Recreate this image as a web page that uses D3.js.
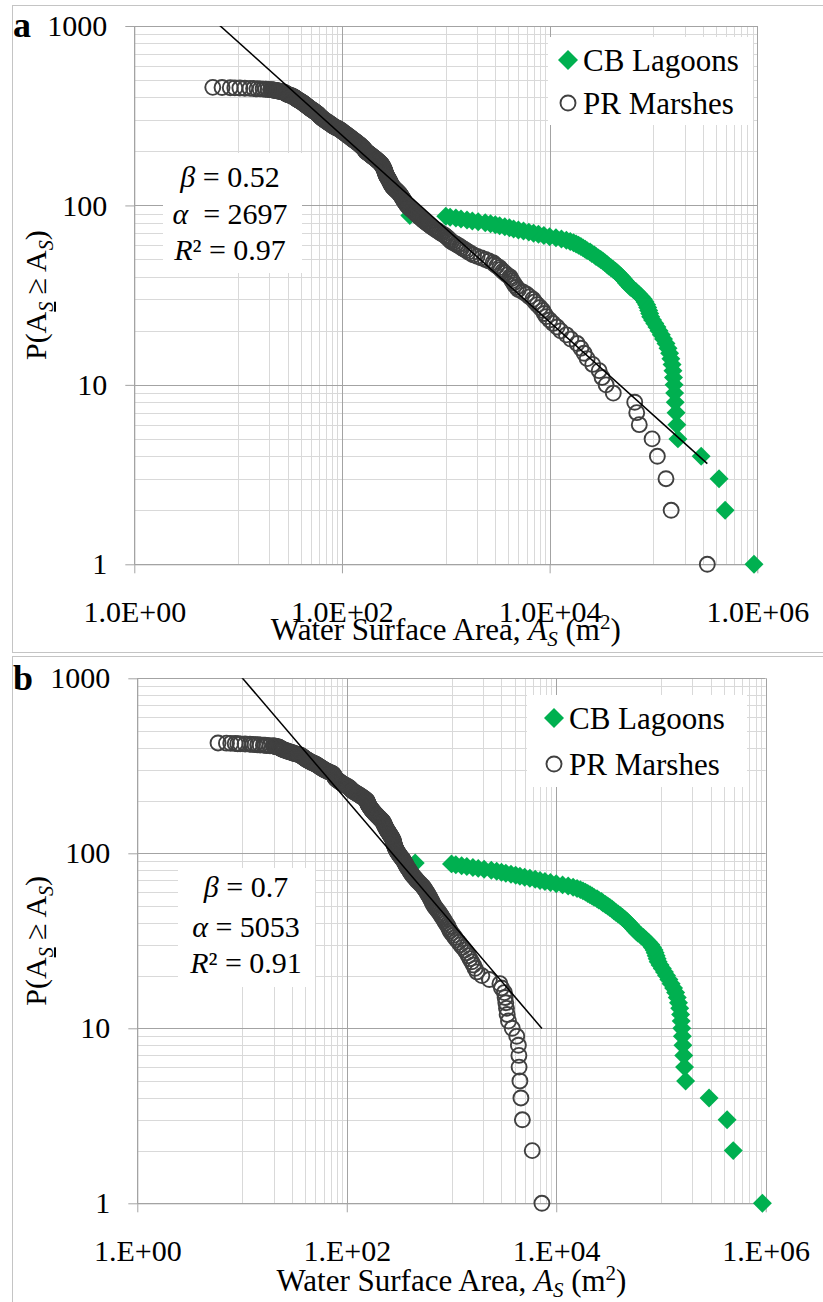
<!DOCTYPE html>
<html>
<head>
<meta charset="utf-8">
<script src="https://cdn.jsdelivr.net/npm/d3@7"></script>
<style>
body { margin: 0; background: #fff; }
svg text { font-family: "Liberation Serif", "Times New Roman", serif; fill: #000; }
</style>
</head>
<body>
<svg id="chart" width="823" height="1302" font-family="Liberation Serif, Times New Roman, serif"></svg>
<script>
// ---- data: [area m2, rank = count of areas >= it] ----
var cbLagoons = [
  [930000,1],[490000,2],[428000,3],[288000,4],[172000,5],[168000,6],[165000,7],[162000,8],[160000,9],[158000,10],
  [156000,11],[154000,12],[151000,13],[147000,14],[143000,15],[138000,16],[132000,17],[125000,18],[119000,19],[113000,20],
  [108000,21],[103000,22],[98000,23],[94000,24],[92000,25],[90000,26],[88000,27],[86000,28],[83000,29],[80000,30],
  [76000,31],[72000,32],[68000,33],[64000,34],[60000,35],[57500,36],[55000,37],[53000,38],[51000,39],[49000,40],
  [47000,41],[45000,42],[43000,43],[41000,44],[39000,45],[37000,46],[35500,47],[34000,48],[32500,49],[31000,50],
  [29500,51],[28000,52],[27000,53],[25500,54],[24500,55],[23000,56],[22000,57],[21000,58],[20000,59],[19000,60],
  [18000,61],[17000,62],[15800,63],[14500,64],[13000,65],[11500,66],[10000,67],[8800,68],[7800,69],[7000,70],
  [6300,71],[5600,72],[5000,73],[4500,74],[4100,75],[3700,76],[3300,77],[3000,78],[2700,79],[2400,80],
  [2050,81],[1800,82],[1600,83],[1400,84],[1250,85],[1100,86],[1000,87],[450,88]
];

var prMarshesA = [
  [330000,1],[148000,2],[132000,3],[109000,4],[97000,5],[73000,6],[69000,7],[66000,8],[41000,9],[35000,10],
  [32000,11],[30000,12],[26000,13],[23000,14],[21500,15],[20000,16],[18400,17],[16000,18],[14500,19],[12800,20],
  [11800,21],[10800,22],[10000,23],[9300,24],[8900,25],[8600,26],[8100,27],[7600,28],[7200,29],[6900,30],
  [6400,31],[6000,32],[5500,33],[5000,34],[4800,35],[4600,36],[4500,37],[4350,38],[4250,39],[4150,40],
  [3900,41],[3700,42],[3550,43],[3400,44],[3300,45],[3100,46],[2950,47],[2850,48],[2600,49],[2400,50],
  [2200,51],[2000,52],[1850,53],[1750,54],[1650,55],[1580,56],[1500,57],[1430,58],[1370,59],[1300,60],
  [1250,61],[1180,62],[1130,63],[1100,64],[1070,65],[1040,66],[1010,67],[980,68],[940,69],[900,70],
  [870,71],[840,72],[810,73],[780,74],[755,75],[730,76],[710,77],[690,78],[670,79],[650,80],
  [632,81],[615,82],[602,83],[590,84],[575,85],[560,86],[547,87],[535,88],[525,89],[515,90],
  [505,91],[495,92],[485,93],[475,94],[465,95],[455,96],[447,97],[440,98],[432,99],[425,100],
  [420,101],[415,102],[410,103],[405,104],[401,105],[398,106],[394,107],[390,108],[386,109],[382,110],
  [378,111],[375,112],[371,113],[368,114],[364,115],[360,116],[355,117],[350,118],[345,119],[340,120],
  [335,121],[330,122],[325,123],[320,124],[316,125],[312,126],[308,127],[305,128],[302,129],[300,130],
  [298,131],[296,132],[294,133],[292,134],[290,135],[288,136],[287,137],[285,138],[283,139],[281,140],
  [279,141],[277,142],[275,143],[273,144],[271,145],[270,146],[268,147],[266,148],[265,149],[264,150],
  [263,151],[262,152],[261,153],[260,154],[259,155],[258,156],[257,157],[256,158],[255,159],[254,160],
  [252,161],[251,162],[250,163],[248,164],[247,165],[246,166],[244,167],[243,168],[241,169],[239,170],
  [237,171],[235,172],[232,173],[230,174],[227,175],[225,176],[222,177],[220,178],[217,179],[215,180],
  [213,181],[210,182],[208,183],[205,184],[203,185],[200,186],[198,187],[195,188],[193,189],[191,190],
  [189,191],[187,192],[185,193],[182,194],[180,195],[178,196],[176,197],[174,198],[172,199],[170,200],
  [169,201],[167,203],[165,205],[163,207],[161,209],[158,211],[155,213],[152,215],[150,217],[147,219],
  [144,221],[141,223],[139,225],[136,227],[133,229],[130,231],[128,233],[125,235],[123,237],[121,239],
  [119,241],[116,243],[114,245],[112,247],[110,249],[108,251],[106,253],[104,255],[102,257],[100,259],
  [99,261],[97,263],[95,265],[93,267],[91,269],[88,271],[86,273],[84,275],[82,277],[81,279],
  [80,281],[78.5,283],[77,285],[75.5,287],[74,289],[73,291],[72,293],[70.5,295],[69,297],[68,299],
  [67,301],[66,303],[65,305],[64,307],[63.4,309],[62.6,311],[61.8,313],[61,315],[60.4,317],[59.8,319],
  [59.2,321],[58.6,323],[58,325],[57.2,327],[56.4,329],[55.6,331],[54.8,333],[54,335],[53.2,337],[52.4,339],
  [51.6,341],[50.8,343],[50,345],[49.4,347],[48.8,349],[48.2,351],[47.6,353],[47,355],[46.4,357],[45.8,359],
  [45.2,361],[44.6,363],[44,365],[43.6,367],[43.2,369],[42.6,371],[42,373],[41.5,375],[40.9,377],[40.3,379],
  [39.7,381],[39.1,383],[38.5,385],[37.9,387],[37.3,389],[36.8,391],[36.4,393],[36,395],[35.6,397],[35.2,399],
  [34.7,401],[34.1,403],[33.5,405],[32.9,407],[32.3,409],[31.6,411],[30.8,413],[30,415],[29.6,417],[29.2,419],
  [28.8,421],[28.4,423],[28,425],[27.5,427],[27,429],[26.5,430],[26,431],[25.5,432],[25,433],[24.5,434],
  [24,435],[23.5,436],[23,437],[22.5,438],[22.1,439],[21.7,440],[21.1,441],[20.5,442],[19.4,443],[18.4,444],
  [17.4,445],[16.3,446],[15.2,447],[14.1,448],[13,449],[11.6,450],[10.4,451],[9.3,452],[8.4,453],[7,454],
  [5.7,455]
];

var prMarshesB = [
  [7300,1],[5900,2],[4750,3],[4600,4],[4500,5],[4420,6],[4400,7],[4350,8],[4200,9],[3800,10],
  [3500,11],[3400,12],[3350,13],[3300,14],[3250,15],[3200,16],[3000,17],[2900,18],[2300,19],[1950,20],
  [1750,21],[1680,22],[1620,23],[1560,24],[1500,25],[1450,26],[1400,27],[1340,28],[1280,29],[1220,30],
  [1170,31],[1120,32],[1080,33],[1040,34],[1000,35],[970,36],[950,37],[930,38],[910,39],[880,40],
  [860,41],[840,42],[820,43],[800,44],[780,45],[760,46],[740,47],[720,48],[700,49],[685,50],
  [671,51],[660,52],[650,53],[640,54],[630,55],[620,56],[610,57],[600,58],[590,59],[580,60],
  [570,61],[560,62],[550,63],[540,64],[528,65],[515,66],[503,67],[490,68],[479,69],[468,70],
  [459,71],[450,72],[441,73],[432,74],[425,75],[418,76],[411,77],[405,78],[400,79],[395,80],
  [390,81],[385,82],[380,83],[375,84],[371,85],[367,86],[363,87],[360,88],[356,89],[352,90],
  [348,91],[345,92],[340,93],[335,94],[330,95],[326,96],[322,97],[318,98],[314,99],[310,100],
  [307,101],[304,102],[301,103],[298,104],[296,105],[294,106],[292,107],[290,108],[288,109],[287,110],
  [285,111],[284,112],[283,113],[282,114],[281,115],[280,116],[279,117],[278,118],[277,119],[275,120],
  [273,121],[271,122],[269,123],[267,124],[265,125],[263,126],[260,127],[258,128],[256,129],[254,130],
  [252,131],[250,132],[248,133],[246,134],[244,135],[242,136],[241,137],[239,138],[237,139],[236,140],
  [234,141],[233,142],[232,143],[230,144],[229,145],[228,146],[227,147],[226,148],[225,149],[223,150],
  [222,151],[221,152],[219,153],[216,154],[214,155],[212,156],[209,157],[207,158],[205,159],[203,160],
  [201,161],[199,162],[197,163],[195,164],[193,165],[191,166],[189,167],[187,168],[186,169],[184,170],
  [182,171],[181,172],[179,173],[178,174],[176,175],[175,176],[174,177],[172,178],[171,179],[170,180],
  [169,181],[168,182],[167,183],[166,184],[165,185],[164,186],[163,187],[162,188],[161,189],[160.5,190],
  [160,191],[159.5,192],[159,193],[158,194],[157.5,195],[157,196],[156.8,197],[156.5,198],[156.2,199],[156,200],
  [153,202],[150,204],[147,206],[144,208],[140,210],[137,212],[134,214],[130,216],[127,218],[124,220],
  [121,222],[118,224],[115,226],[113,228],[111,230],[110,232],[108,234],[107,236],[105,238],[103,240],
  [100,242],[98,244],[95,246],[93,248],[91,250],[89,252],[87.5,254],[86,256],[84.5,258],[83,260],
  [81.5,262],[80,264],[79,266],[78,268],[77.5,270],[77,272],[76.5,274],[76,276],[75.5,278],[75,280],
  [74.5,282],[74,284],[72.5,286],[71,288],[69,290],[67,292],[65.5,294],[64,296],[62.5,298],[61,300],
  [60,302],[59,304],[58,306],[57,308],[56,310],[55,312],[54.2,314],[53.5,316],[52.8,318],[52,320],
  [51,322],[50,324],[48.8,326],[47.5,328],[46.5,330],[45.5,332],[44.8,334],[44,336],[43.2,338],[42.5,340],
  [41.8,342],[41,344],[40.5,346],[40,348],[39.5,350],[39,352],[38.5,354],[38,356],[37.5,358],[37,360],
  [36.5,362],[36,364],[35,366],[33.7,368],[32.5,370],[31.5,372],[30.7,374],[30,376],[29.2,378],[28.4,380],
  [27.6,382],[26.9,384],[26.2,386],[25.6,388],[25,390],[24.5,392],[24.1,394],[23.7,396],[23.3,398],[23,400],
  [22.7,402],[22.4,404],[22.2,405],[21.7,406],[21.2,407],[20.8,408],[20.5,409],[20.2,410],[19.9,411],[18.5,412],
  [17.2,413],[16.6,414],[16,415],[14.9,416],[14.1,417],[13.3,418],[12.6,419],[11.9,420],[10.7,421],[9.6,422],
  [9.1,423],[8.6,424],[7.8,425],[7.1,426],[5.9,427]
];

// fitted power law: [beta, alpha, R2]
var fitA = [0.52, 2697, 0.97];
var fitB = [0.7, 5053, 0.91];

var seriesNames = ["CB Lagoons", "PR Marshes"];
var xTickValues = [1, 1e2, 1e4, 1e6];
var xTickLabelsA = ["1.0E+00", "1.0E+02", "1.0E+04", "1.0E+06"];
var xTickLabelsB = ["1.E+00", "1.E+02", "1.E+04", "1.E+06"];
var yTickValues = [1, 10, 100, 1000];
var yTickLabels = ["1", "10", "100", "1000"];

// ---- styling / layout ----
var FONT = "Liberation Serif, Times New Roman, serif";
var GREEN = "#00b050";
var DARK = "#404040";
var MAJOR = "#a3a3a3";
var MINOR = "#d9d9d9";

var panels = [
  { id: "a", marsh: prMarshesA, fit: fitA, xLabels: xTickLabelsA, alphaGap: "  ",
    left: 134.3, top: 26, right: 757.3, bottom: 564.3,
    frameTop: 5.5, frameH: 647, labelY: 37, xTitleY: 640,
    box: { x: 163, y: 153, w: 139, h: 120, cx: 230, rows: [187, 224, 260] },
    legend: { x: 548, y: 37, w: 205, h: 88, mx: 568, tx: 583, rows: [60, 103] } },
  { id: "b", marsh: prMarshesB, fit: fitB, xLabels: xTickLabelsB, alphaGap: " ",
    left: 137.3, top: 678.3, right: 765.7, bottom: 1203.3,
    frameTop: 656.5, frameH: 700, labelY: 690, xTitleY: 1291,
    box: { x: 178, y: 868, w: 137, h: 119, cx: 246, rows: [897, 937, 973] },
    legend: { x: 527, y: 695, w: 220, h: 92, mx: 554, tx: 569, rows: [718, 764] } }
];

var svg = d3.select("#chart");

function draw_panel(p, idx) {
  var x = d3.scaleLog().domain([1, 1e6]).range([p.left, p.right]);
  var y = d3.scaleLog().domain([1, 1000]).range([p.bottom, p.top]);

  // outer chart frame
  svg.append("rect")
    .attr("x", 12.5).attr("y", p.frameTop)
    .attr("width", 830).attr("height", p.frameH)
    .attr("fill", "#fff").attr("stroke", "#c4c4c4");

  var g = svg.append("g");

  // minor grid: x at 10..90, 1e3..9e3, 1e5..9e5 ; y at 2..9 per decade
  var xMinor = [], yMinor = [];
  [10, 1e3, 1e5].forEach(function (b) { for (var m = 1; m <= 9; m++) xMinor.push(b * m); });
  [1, 10, 100].forEach(function (b) { for (var m = 2; m <= 9; m++) yMinor.push(b * m); });

  function vlines(vals, col) {
    g.append("g").selectAll("line").data(vals).enter().append("line")
      .attr("x1", function (d) { return Math.round(x(d)) + 0.5; })
      .attr("x2", function (d) { return Math.round(x(d)) + 0.5; })
      .attr("y1", p.top).attr("y2", p.bottom)
      .attr("stroke", col);
  }
  function hlines(vals, col) {
    g.append("g").selectAll("line").data(vals).enter().append("line")
      .attr("y1", function (d) { return Math.round(y(d)) + 0.5; })
      .attr("y2", function (d) { return Math.round(y(d)) + 0.5; })
      .attr("x1", p.left).attr("x2", p.right)
      .attr("stroke", col);
  }
  vlines(xMinor, MINOR);
  hlines(yMinor, MINOR);
  vlines(xTickValues, MAJOR);
  hlines(yTickValues, MAJOR);

  // axes
  var xAxis = d3.axisBottom(x).tickValues(xTickValues)
    .tickFormat(function (d, i) { return p.xLabels[i]; })
    .tickSize(9).tickSizeOuter(0).tickPadding(27);
  var yAxis = d3.axisLeft(y).tickValues(yTickValues)
    .tickFormat(function (d, i) { return yTickLabels[i]; })
    .tickSize(9).tickSizeOuter(0).tickPadding(18);

  g.append("g").attr("transform", "translate(0," + p.bottom + ")").call(xAxis)
    .attr("font-size", 30).attr("font-family", FONT)
    .call(function (a) {
      a.select(".domain").attr("stroke", MAJOR);
      a.selectAll(".tick line").attr("stroke", MAJOR);
    });
  g.append("g").attr("transform", "translate(" + p.left + ",0)").call(yAxis)
    .attr("font-size", 30).attr("font-family", FONT)
    .call(function (a) {
      a.select(".domain").attr("stroke", MAJOR);
      a.selectAll(".tick line").attr("stroke", MAJOR);
    });

  // CB Lagoons diamonds
  var diamond = d3.symbol().type(d3.symbolSquare).size(180);
  g.append("g").selectAll("path").data(cbLagoons).enter().append("path")
    .attr("d", diamond)
    .attr("transform", function (d) { return "translate(" + x(d[0]) + "," + y(d[1]) + ") rotate(45)"; })
    .attr("fill", GREEN);

  // PR Marshes circles
  g.append("g").selectAll("circle").data(p.marsh).enter().append("circle")
    .attr("cx", function (d) { return x(d[0]); })
    .attr("cy", function (d) { return y(d[1]); })
    .attr("r", 7.5)
    .attr("fill", "none")
    .attr("stroke", DARK)
    .attr("stroke-width", 1.9);

  // power-law trendline over the marsh data range
  var xr = d3.extent(p.marsh, function (d) { return d[0]; });
  var ends = xr.map(function (v) { return [v, p.fit[1] * Math.pow(v, -p.fit[0])]; });
  svg.append("clipPath").attr("id", "clip" + idx).append("rect")
    .attr("x", p.left).attr("y", p.top)
    .attr("width", p.right - p.left).attr("height", p.bottom - p.top);
  g.append("path")
    .attr("clip-path", "url(#clip" + idx + ")")
    .attr("d", d3.line().x(function (d) { return x(d[0]); }).y(function (d) { return y(d[1]); })(ends))
    .attr("fill", "none").attr("stroke", "#000").attr("stroke-width", 1.5);

  // fit annotation
  var b = p.box;
  g.append("rect").attr("x", b.x).attr("y", b.y).attr("width", b.w).attr("height", b.h).attr("fill", "#fff");
  var rows = [["β", " = " + p.fit[0]], ["α", p.alphaGap + "= " + p.fit[1]], ["R", "² = " + p.fit[2]]];
  rows.forEach(function (r, i) {
    var t = g.append("text").attr("x", b.cx).attr("y", b.rows[i])
      .attr("text-anchor", "middle").attr("font-size", 30).attr("font-family", FONT)
      .style("white-space", "pre");
    t.append("tspan").attr("font-style", "italic").text(r[0]);
    t.append("tspan").text(r[1]);
  });

  // legend
  var L = p.legend;
  g.append("rect").attr("x", L.x).attr("y", L.y).attr("width", L.w).attr("height", L.h).attr("fill", "#fff");
  g.append("path").attr("d", d3.symbol().type(d3.symbolSquare).size(200)())
    .attr("transform", "translate(" + L.mx + "," + L.rows[0] + ") rotate(45)")
    .attr("fill", GREEN);
  g.append("circle").attr("cx", L.mx).attr("cy", L.rows[1]).attr("r", 7.5)
    .attr("fill", "none").attr("stroke", DARK).attr("stroke-width", 1.9);
  seriesNames.forEach(function (s, i) {
    g.append("text").attr("x", L.tx).attr("y", L.rows[i]).attr("dy", "0.34em")
      .attr("font-size", 31).attr("font-family", FONT).text(s);
  });

  // x title
  var xt = svg.append("text").attr("x", (p.left + p.right) / 2).attr("y", p.xTitleY)
    .attr("text-anchor", "middle").attr("font-size", 31).attr("font-family", FONT);
  xt.append("tspan").text("Water Surface Area, ");
  xt.append("tspan").attr("font-style", "italic").text("A");
  xt.append("tspan").attr("font-style", "italic").attr("font-size", 21).attr("dy", 6).text("S");
  xt.append("tspan").attr("dy", -6).text(" (m");
  xt.append("tspan").attr("font-size", 21).attr("dy", -11).text("2");
  xt.append("tspan").attr("dy", 11).text(")");

  // y title
  var yt = svg.append("text")
    .attr("transform", "translate(46," + (p.top + p.bottom) / 2 + ") rotate(-90)")
    .attr("text-anchor", "middle").attr("font-size", 30).attr("font-family", FONT);
  yt.append("tspan").text("P(A");
  yt.append("tspan").attr("font-style", "italic").attr("font-size", 20).attr("dy", 7)
    .attr("text-decoration", "underline").text("S");
  yt.append("tspan").attr("dy", -7).text(" ≥ A");
  yt.append("tspan").attr("font-style", "italic").attr("font-size", 20).attr("dy", 7).text("S");
  yt.append("tspan").attr("dy", -7).text(")");

  // panel letter
  svg.append("text").attr("x", 13).attr("y", p.labelY)
    .attr("font-size", 36).attr("font-weight", "bold").attr("font-family", FONT).text(p.id);
}

panels.forEach(draw_panel);
</script>
</body>
</html>
